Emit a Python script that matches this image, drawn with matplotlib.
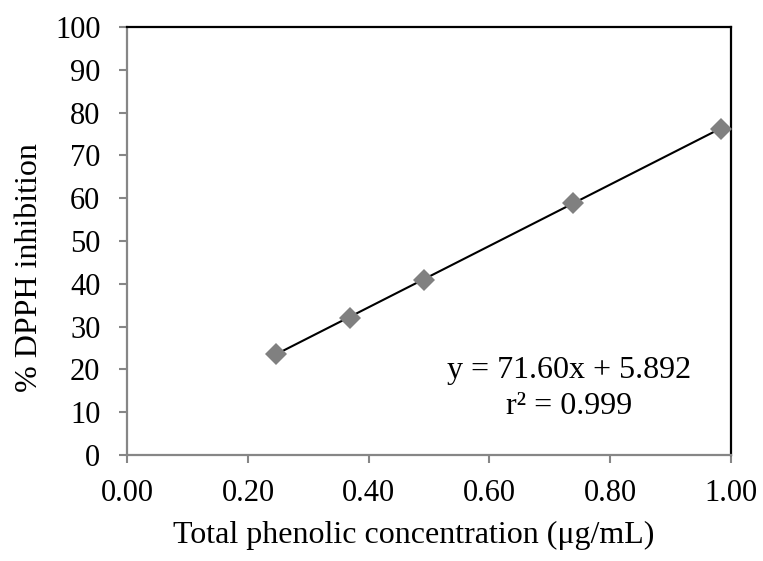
import matplotlib
matplotlib.use("Agg")
import matplotlib.pyplot as plt
import numpy as np

plt.rcParams['font.family'] = ['Liberation Serif', 'DejaVu Serif']

conc = [0.246, 0.369, 0.492, 0.738, 0.984]
inhibition = [23.6, 32.0, 40.8, 58.9, 76.2]
slope, intercept = 71.60, 5.892
xticks = [0.0, 0.2, 0.4, 0.6, 0.8, 1.0]
yticks = list(range(0, 101, 10))

fig = plt.figure(figsize=(7.63, 5.61), dpi=100)
ax = fig.add_axes([127.5/763, 1-455/561, (730.7-127.5)/763, (455-27)/561])

xl = np.array([conc[0], conc[-1]])
ax.plot(xl, slope*xl + intercept, color='black', lw=1.5, zorder=2)
ax.plot(conc, inhibition, linestyle='none', marker='D', color='#808080',
        markersize=11, markeredgewidth=0, zorder=3, clip_on=False)

ax.set_xlim(0, 1.0)
ax.set_ylim(0, 100)
ax.set_xticks(xticks)
ax.set_xticklabels([f"{v:.2f}" for v in xticks])
ax.set_yticks(yticks)
ax.tick_params(axis='both', direction='out', length=5.5, width=1.5, color='#868686',
               labelsize=22)
ax.tick_params(axis='x', pad=12)
ax.tick_params(axis='y', pad=14)
for s in ['left', 'bottom']:
    ax.spines[s].set_color('#868686')
    ax.spines[s].set_linewidth(1.6)
for s in ['top', 'right']:
    ax.spines[s].set_color('black')
    ax.spines[s].set_linewidth(1.6)

ax.set_xlabel('Total phenolic concentration (μg/mL)', fontsize=23)
ax.set_ylabel('% DPPH inhibition', fontsize=23)
ax.xaxis.set_label_coords(0.475, -0.155)
ax.yaxis.set_label_coords(-0.138, 0.437)

ax.text(0.732, 18.0, 'y = 71.60x + 5.892', fontsize=23, ha='center', va='baseline')
ax.text(0.732, 9.6, 'r² = 0.999', fontsize=23, ha='center', va='baseline')

fig.savefig('out.png', dpi=100)
